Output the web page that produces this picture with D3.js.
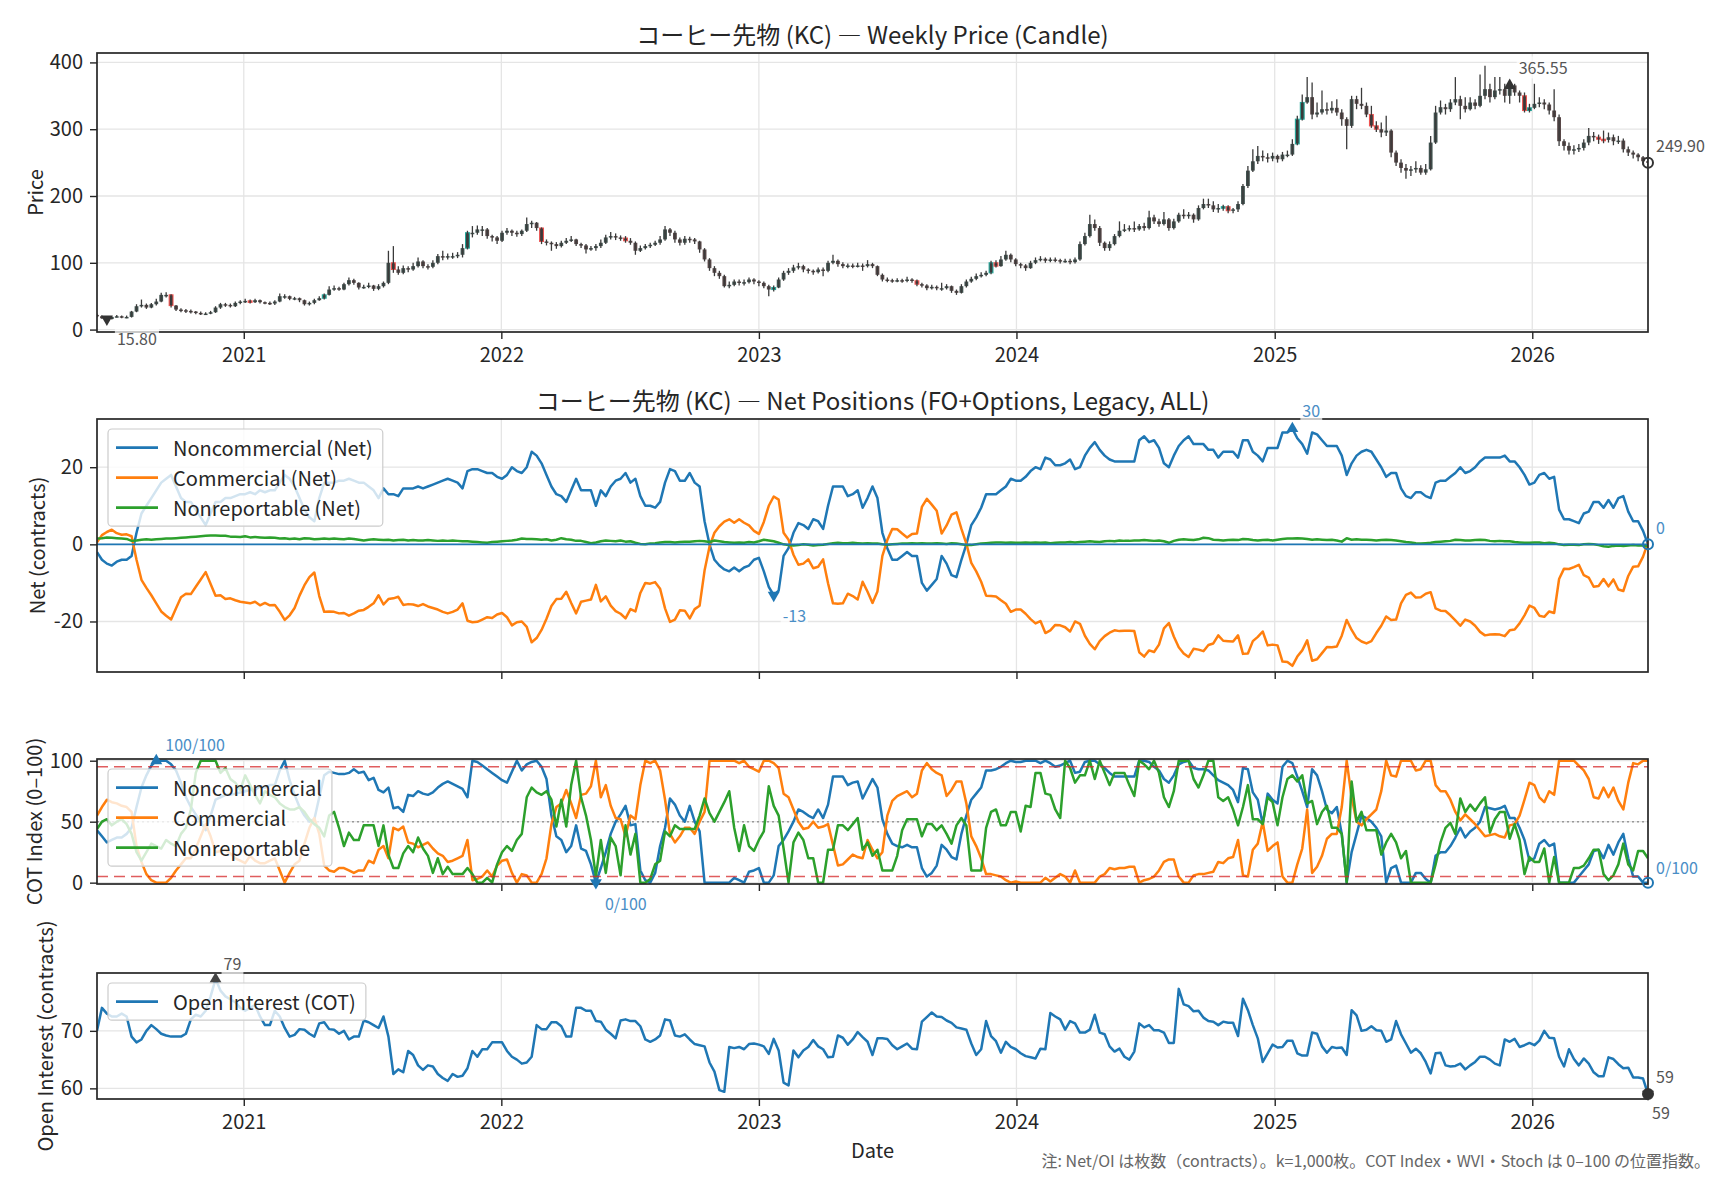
<!DOCTYPE html>
<html lang="ja">
<head>
<meta charset="UTF-8">
<title>コーヒー先物 (KC)</title>
<script src="https://cdn.jsdelivr.net/npm/d3@7"></script>
<style>
  html, body { margin: 0; padding: 0; background: #fff; }
  #chart { display: block; font-family: "Noto Sans CJK JP", "Noto Sans", sans-serif; }
</style>
</head>
<body>
<svg id="chart" width="1728" height="1180"></svg>
<script>
// ---- data: weekly bars, first week ending 2020-06-07 ----
const firstWeek = new Date(2020, 5, 7);
const firstOpen = 22;

const closes = [
  20,17,15.8,19,20,19,19,27,35,37,33,38,42,52,52,36,30,29,28,27,
  25,24,24,26,33,38,37,35,40,42,43,41,44,41,40,39,42,50,50,46,
  47,44,38,40,44,47,52,60,62,60,68,74,70,63,64,66,61,65,70,100,
  90,85,92,90,95,102,95,94,100,110,108,110,110,112,122,145,145,150,150,140,
  138,133,145,148,145,143,148,158,160,152,132,130,128,125,130,133,135,128,126,120,
  122,125,130,138,140,138,137,133,130,118,122,125,127,130,135,150,145,135,130,136,
  135,132,120,105,92,85,80,65,67,72,70,71,75,72,70,65,60,63,75,85,
  88,93,95,90,88,86,90,88,100,103,98,95,96,95,96,95,98,95,82,75,
  74,73,74,73,75,73,68,66,62,64,62,62,65,58,55,65,72,76,80,82,
  85,100,95,105,112,105,98,96,92,100,104,106,103,105,104,102,103,101,105,128,
  140,158,152,130,122,128,140,148,150,152,150,155,152,168,162,158,165,152,162,172,
  170,172,165,182,188,186,180,182,184,178,180,188,215,238,252,260,258,256,260,255,
  262,262,278,315,340,348,322,325,330,328,332,325,315,305,345,338,335,322,305,300,
  295,298,265,250,242,238,240,242,235,240,280,325,333,330,340,345,335,330,340,335,
  350,360,348,358,360,350,365.55,355,350,328,332,338,340,337,328,318,282,275,268,270,
  272,280,290,288,285,284,288,282,283,270,265,262,258,252,249.9
];
const highs = [
  24,21,18,20,22,21,21,28,38,45,39,40,46,55,56,53,37,32,31,30,
  28,27,26,28,35,40,40,39,42,44,46,45,46,45,42,42,44,54,53,51,
  49,48,45,42,46,50,54,65,66,64,70,78,76,71,67,70,67,68,72,118,
  125,95,96,95,100,108,104,98,104,113,118,114,115,116,128,148,155,156,155,152,
  142,140,148,152,150,148,150,168,163,161,153,135,132,131,133,137,140,136,130,128,
  125,128,135,142,146,144,141,140,137,132,126,128,130,133,140,155,152,148,138,140,
  139,137,133,122,107,95,88,82,72,75,75,75,78,77,74,72,67,66,78,88,
  92,97,100,97,92,90,93,93,103,112,105,101,99,99,100,99,104,100,96,84,
  78,76,77,76,79,77,75,70,68,67,66,70,68,66,60,68,75,79,84,86,
  88,103,104,110,118,114,107,100,98,103,108,110,108,108,108,106,106,106,108,132,
  145,172,165,155,132,132,143,162,158,156,162,158,160,178,172,166,176,167,166,175,
  180,176,174,186,196,196,192,188,187,186,182,192,218,245,270,275,268,264,265,262,
  266,268,285,320,352,378,370,340,358,340,342,345,330,318,350,350,362,340,335,312,
  310,320,300,268,255,248,245,252,246,248,290,335,343,338,345,378,350,348,348,345,
  382,395,368,378,378,368,370,368,358,355,338,368,348,345,340,360,322,285,280,276,
  278,285,302,296,292,298,295,292,290,286,274,268,264,260,258
];
const lows = [
  18,16,14,15,18,17,17,18,26,33,31,32,36,41,48,33,28,26,25,24,
  23,22,22,23,25,31,34,33,34,38,40,39,40,39,38,37,37,41,46,44,
  44,41,36,36,38,43,45,51,58,58,59,66,67,60,61,62,58,59,63,68,
  85,82,83,86,88,93,92,90,92,98,104,105,106,107,108,120,138,142,140,136,
  132,128,131,142,140,139,140,146,152,148,128,126,118,121,123,128,131,125,122,114,
  118,118,122,128,135,134,133,130,127,112,116,120,122,125,127,133,140,130,126,127,
  130,128,115,102,88,80,76,63,62,65,66,66,69,68,65,62,50,57,62,73,
  82,85,90,86,84,82,84,80,86,98,94,92,92,92,93,88,93,92,80,72,
  71,70,71,70,71,70,65,63,59,60,59,58,60,55,52,54,63,70,74,78,
  80,83,93,94,103,101,95,92,88,91,98,102,100,101,101,99,100,98,99,103,
  126,138,148,125,118,118,126,138,146,147,146,148,148,150,158,154,156,148,150,160,
  166,166,160,163,180,182,176,175,178,174,174,176,186,212,236,248,252,250,252,250,
  252,258,260,276,313,338,315,318,322,322,324,320,305,270,302,330,330,318,302,296,
  288,290,258,245,235,226,230,235,232,232,238,278,322,322,326,336,315,325,328,330,
  333,345,340,345,352,340,338,350,340,325,325,330,333,330,322,312,275,268,262,262,
  266,268,276,282,278,279,280,276,278,265,260,256,252,246,240
];
// weeks whose candle body is drawn with a bright outline
const markedCandles = [15,31,46,60,75,90,107,137,166,181,182,228,229,243,244,258,259,289,290,304,305];

const nonCommNet = [
  -2,-4,-5,-5.5,-4.5,-4,-4,-3,3,8,10,12,14,16,17,18,15,12,11,11,
  9,7,5,8,11,11,12,12,12.5,13,13,13.5,13,14,13.5,14,14,16,18,17,
  15,12,9,7,6,12,16,16,16,16.5,16.5,17,16.5,16,16,15,14,12,14.5,13,
  13,12.5,14.5,14.5,14.5,15,14.5,15,15.5,16,16.5,17,16.5,16,14.5,19,19.5,19.5,19,18.5,
  18.5,17.5,17,18,20,19,18.5,20,24,23,21,18,15,13,12.5,11,14,17,14,14,
  14,10,14,12.5,15,16.5,17,18.5,16,17,12.5,10,10,9.5,11,16,19.5,19,16.5,16.5,
  18.5,16,15,6,0,-4,-5.5,-6.5,-7,-6,-7,-6,-5.5,-4,-3.5,-7,-11,-13.2,-12,-3,
  -1,3,5.5,5,4,6.5,6,4,10,15,15,15,12.5,13,14,9.5,12,15,12,3,
  -1,-4,-4,-3,-2,-3,-3,-10,-12,-10.5,-9,-3,-5,-8,-8.5,-4,0,5,7,9.5,
  13,13,13,14,15,17,16.5,16.5,17.5,19,20,19.5,22.5,22,20.5,20.5,21,22,19.5,20,
  23,25,26.5,24.5,23,22,21.5,21.5,21.5,21.5,21.5,27,28,26.5,27,25,21,20,23,25.5,
  27,28,26,26,26,24.5,24.5,22.5,24,24,24,22.5,27,27,24,23,21.5,25,25,25,
  29,29,30,27.5,26,23.5,29,28.5,27,25.5,25.5,25.5,23,18,21,23,24,24.5,24,22,
  20,17.5,18.5,18.5,14.5,12.5,12,13.5,13.5,12.5,12,16,16.5,16.5,17.5,18.5,20,18.5,19,20,
  21.5,22.5,22.5,22.5,22.5,23,21.5,21.5,20,18,15.5,16,18,18.5,17,17.5,9,6.5,6.5,6,
  5.5,8,8.5,11,11,9.5,11.5,9.5,12,12.5,8.5,6,6,3.5,0
];
const commNet = [
  0.5,2.4,3.2,3.8,2.9,2.5,2.6,2.1,-4,-9.2,-11.3,-13.2,-15.3,-17.4,-18.5,-19.5,-16.6,-13.7,-12.8,-12.9,
  -11,-9.1,-7.2,-10.3,-13.3,-13.2,-14.2,-14,-14.5,-14.9,-15.1,-15.3,-14.9,-15.8,-15.2,-15.8,-15.7,-17.5,-19.6,-18.4,
  -16.5,-13.3,-10.6,-8.5,-7.3,-13.4,-17.5,-17.4,-17.5,-17.9,-17.8,-18.5,-17.9,-17.2,-17,-16.2,-15.3,-13.2,-15.6,-14.2,
  -14,-13.6,-15.7,-15.5,-15.6,-16,-15.5,-16.1,-16.5,-16.9,-17.5,-17.9,-17.5,-16.9,-15.3,-19.8,-20.2,-20.1,-19.5,-18.9,
  -19.1,-18.2,-17.8,-18.9,-21,-20.2,-20,-21.4,-25.4,-24.3,-22.2,-19.3,-16,-14.2,-14.1,-12.3,-15.2,-17.9,-14.9,-14.6,
  -14.3,-10.5,-14.8,-13.5,-15.9,-17.3,-18,-19.2,-16.8,-17.4,-12.6,-10,-10.2,-9.8,-11.5,-16.6,-20.1,-19.5,-17.1,-17.2,
  -19.2,-16.8,-15.9,-6.8,-0.6,3,4.7,5.9,6.5,5.6,6.5,5.6,4.9,3.5,2.7,5.8,10,12.4,11.6,3,
  1.2,-2.7,-5.3,-5,-3.9,-6.2,-5.8,-3.9,-10.1,-15.3,-15.4,-15.3,-12.8,-13.4,-14.3,-9.7,-12.3,-15.2,-12.2,-3,
  1.1,4,3.9,2.8,1.8,2.7,2.8,9.7,11.8,10.3,8.7,2.8,4.9,7.7,8.3,4,0.2,-4.8,-7,-9.7,
  -13.3,-13.4,-13.5,-14.5,-15.4,-17.5,-16.9,-16.9,-18,-19.4,-20.5,-19.9,-23,-22.3,-20.9,-21,-21.5,-22.6,-20,-20.6,
  -23.7,-25.8,-27.2,-25.1,-23.8,-22.9,-22.3,-22.5,-22.4,-22.4,-22.5,-28,-29.1,-27.5,-27.9,-26,-21.8,-20.4,-23.9,-26.7,
  -28.3,-29.2,-27.1,-27.3,-27.7,-26.1,-25.7,-23.6,-25,-25.1,-25.2,-23.6,-28.4,-28.3,-25.1,-24,-22.6,-26.2,-26,-26.2,
  -30.4,-30.5,-31.5,-29.1,-27.5,-24.9,-30.2,-29.8,-28.2,-26.6,-26.7,-26.5,-23.7,-19.6,-22.2,-24.3,-25.2,-25.7,-25.1,-23,
  -21.1,-18.7,-19.6,-19.5,-15.3,-13.1,-12.5,-13.8,-13.7,-12.8,-12.4,-16.6,-17.2,-17.3,-18.4,-19.7,-21.1,-19.5,-20,-21.1,
  -22.7,-23.6,-23.4,-23.3,-23.4,-23.8,-22.3,-22.1,-20.5,-18.4,-15.9,-16.5,-18.5,-18.8,-17.4,-17.8,-9,-6.3,-6.4,-5.9,
  -5.3,-8,-8.6,-11,-10.8,-9,-10.9,-9.1,-11.7,-12.1,-8.2,-5.8,-5.7,-3.2,0.5
];
const nonRepNet = [
  1.5,1.6,1.8,1.7,1.6,1.5,1.4,0.9,1.0,1.2,1.3,1.2,1.3,1.4,1.5,1.5,1.6,1.7,1.8,1.9,
  2.0,2.1,2.2,2.3,2.3,2.2,2.2,2.0,2.0,1.9,2.1,1.8,1.9,1.8,1.7,1.8,1.7,1.5,1.6,1.4,
  1.5,1.3,1.6,1.5,1.3,1.4,1.5,1.4,1.5,1.4,1.3,1.5,1.4,1.2,1.0,1.2,1.3,1.2,1.1,1.2,
  1.0,1.1,1.2,1.0,1.1,1.0,1.0,1.1,1.0,0.9,1.0,0.9,1.0,0.9,0.8,0.8,0.7,0.6,0.5,0.4,
  0.6,0.7,0.8,0.9,1.0,1.2,1.5,1.4,1.4,1.3,1.2,1.3,1.0,1.2,1.6,1.3,1.2,0.9,0.9,0.6,
  0.3,0.5,0.8,1.0,0.9,0.8,1.0,0.7,0.8,0.4,0.1,0.0,0.2,0.3,0.5,0.6,0.6,0.5,0.6,0.7,
  0.7,0.8,0.9,0.8,0.6,1.0,0.8,0.6,0.5,0.4,0.5,0.4,0.6,0.5,0.8,1.2,1.0,0.8,0.4,0.0,
  -0.2,-0.3,-0.2,0.0,-0.1,-0.3,-0.2,-0.1,0.1,0.3,0.4,0.3,0.3,0.4,0.3,0.2,0.3,0.2,0.2,0.0,
  -0.1,0.0,0.1,0.2,0.2,0.3,0.2,0.3,0.2,0.2,0.3,0.2,0.1,0.3,0.2,0.0,-0.2,-0.2,0.0,0.2,
  0.3,0.4,0.5,0.5,0.4,0.5,0.4,0.4,0.5,0.4,0.5,0.4,0.5,0.3,0.4,0.5,0.5,0.6,0.5,0.6,
  0.7,0.8,0.7,0.6,0.8,0.9,0.8,1.0,0.9,0.9,1.0,1.0,1.1,1.0,0.9,1.0,0.8,0.4,0.9,1.2,
  1.3,1.2,1.1,1.3,1.7,1.6,1.2,1.1,1.0,1.1,1.2,1.1,1.4,1.3,1.1,1.0,1.1,1.2,1.0,1.2,
  1.4,1.5,1.5,1.6,1.5,1.4,1.2,1.3,1.2,1.1,1.2,1.0,0.7,1.6,1.2,1.3,1.2,1.2,1.1,1.0,
  1.1,1.2,1.1,1.0,0.8,0.6,0.5,0.3,0.2,0.3,0.4,0.6,0.7,0.8,0.9,1.2,1.1,1.0,1.0,1.1,
  1.2,1.1,0.9,0.8,0.9,0.8,0.8,0.6,0.5,0.4,0.4,0.5,0.5,0.3,0.4,0.3,0.0,-0.2,-0.1,-0.1,
  -0.2,0.0,0.1,0.0,-0.2,-0.5,-0.6,-0.4,-0.3,-0.4,-0.3,-0.2,-0.3,-0.3,-0.5
];

const nonCommIdx = [
  43,38,33,35,37,37,40,45,62,78,88,96,100,100,100,97,92,82,70,62,
  56,50,43,55,68,70,72,72,73,74,75,76,76,79,78,80,80,92,100,84,
  72,62,55,50,52,70,88,91,90,89,89,90,93,90,91,84,86,76,74,78,
  61,62,58,72,71,75,73,72,74,78,81,83,81,79,77,70,100,99,96,93,
  90,87,84,82,91,100,92,97,99,100,95,85,55,38,35,25,30,47,28,26,
  15,0,12,25,40,50,56,63,47,48,10,2,0,8,30,45,69,64,55,50,
  63,50,42,0,0,0,0,0,0,4,2,0,9,10,12,0,0,6,30,35,
  42,50,60,58,55,53,60,53,64,87,87,87,80,82,83,69,77,85,78,52,
  40,32,30,29,31,29,29,12,5,8,14,31,27,21,19,40,55,68,73,78,
  92,92,93,95,98,100,99,99,100,100,100,98,100,98,95,96,98,100,90,91,
  99,100,100,97,94,90,87,87,87,87,87,100,100,99,95,92,85,82,88,97,
  99,100,94,93,93,92,88,84,82,80,76,66,94,93,74,68,48,73,68,65,
  95,100,98,87,75,62,93,88,75,60,57,62,40,0,25,40,55,53,50,45,
  38,0,12,14,0,0,0,8,8,3,0,22,25,25,30,37,45,37,42,45,
  50,62,61,60,61,63,53,53,45,35,18,20,32,35,30,32,0,0,0,0,
  5,10,15,26,27,20,31,23,33,40,20,5,5,0,0
];
const commIdx = [
  55,62,68,66,65,63,62,58,30,17,7,2,0,0,0,4,10,15,20,20,
  28,38,48,38,25,26,27,24,20,18,16,22,18,16,16,18,20,10,0,8,
  15,18,32,45,53,40,14,10,9,12,12,10,8,10,10,18,16,27,30,20,
  45,43,46,33,32,29,31,33,28,24,22,17,18,20,22,35,2,3,5,10,
  5,14,18,19,8,0,7,6,0,0,7,20,48,62,65,76,65,53,72,73,
  79,100,70,80,63,53,52,38,55,52,80,100,98,100,92,68,40,33,38,45,
  45,40,50,58,100,100,100,100,100,100,98,100,95,93,91,100,100,98,94,73,
  70,60,50,44,45,50,45,46,48,31,14,15,19,23,21,20,35,27,20,25,
  55,67,71,73,75,70,73,92,98,93,90,88,71,76,83,83,65,38,30,20,
  7,7,6,5,2,0,1,0,0,0,0,0,4,1,4,7,5,0,10,0,
  0,0,0,5,7,12,11,12,12,13,13,0,2,3,5,10,17,19,19,5,
  0,0,6,7,7,8,9,17,16,20,21,35,6,5,27,32,50,26,30,33,
  5,0,0,15,28,60,8,13,22,36,40,40,62,100,70,50,47,52,56,60,
  75,100,88,87,100,100,100,92,93,100,100,80,75,75,68,58,51,56,52,48,
  43,38,39,40,38,37,47,48,55,68,82,80,70,66,75,72,100,100,100,100,
  96,92,85,70,69,78,70,78,67,60,82,98,97,100,100
];
const nonRepIdx = [
  44,50,52,47,50,52,48,40,25,18,25,32,30,28,35,32,30,40,45,60,
  90,100,100,100,100,90,94,85,82,76,88,80,72,65,75,72,70,65,62,60,
  60,62,58,52,48,45,38,55,58,45,30,41,35,35,47,47,47,30,47,23,
  12,12,24,30,25,37,28,22,8,20,7,13,7,7,7,12,7,0,0,4,
  0,15,25,30,26,35,40,70,78,74,72,75,68,46,68,46,80,100,70,55,
  35,5,35,8,37,30,6,47,23,40,0,0,3,15,18,42,38,47,44,44,
  44,44,55,69,57,50,58,66,75,45,26,47,30,26,35,42,79,63,55,28,
  0,33,41,35,20,20,0,0,27,27,47,47,43,48,53,27,33,22,27,10,
  10,10,22,43,52,52,52,38,48,48,43,47,40,32,47,53,47,10,10,10,
  45,58,60,47,47,58,58,42,63,62,90,90,73,72,60,53,100,94,82,88,
  88,100,85,100,90,80,90,90,90,80,71,100,97,93,100,90,70,62,75,100,
  100,100,85,78,88,100,100,70,67,70,60,47,62,80,52,52,48,70,66,47,
  70,85,88,83,88,65,67,48,58,63,45,45,40,0,83,50,58,43,43,43,
  23,33,40,33,20,26,0,0,0,0,0,15,33,45,49,40,69,58,64,59,
  65,70,41,52,58,58,36,48,35,7,21,17,17,28,0,21,0,0,0,12,
  12,14,20,27,27,7,2,6,15,32,15,10,26,26,20
];

const openInterest = [
  70,74,73,72.5,72.5,73,72.5,69,68,68.5,70,71,70.3,69.5,69.2,69,69,69,69.5,72,
  72.8,72.5,73.5,76,79,77,76,75.5,75,74,73.5,74,74.5,72.5,71,71,73.5,72.5,70.5,69,
  69.3,70.3,70.2,69.5,69,71.3,71.5,70.3,70.2,69.5,70,68.5,69,69,71.8,71.5,71,70.5,72.5,69,
  62.5,63.3,62.8,66.5,65.8,64,63.2,64,63.8,62.5,61.8,61.3,62.5,62,62.2,63.5,66.5,65.5,66.8,66.8,
  68,68,68,66.5,65.5,65,64.3,64.5,65.5,71,70.3,70.3,71.5,71.5,70.8,69,69,74,74,73.5,
  73.5,71.7,71.6,70.2,69.5,68.7,71.8,72,71.7,71.7,70.8,68.5,68.1,68.5,69.2,72,71.8,69.2,69,69.4,
  68.5,67.7,67.5,67.3,64.5,62.9,59.7,59.4,67.2,67,67.2,66.8,67.7,67.8,67.6,67.3,66,68.6,66.6,61,
  60.5,66.6,65.4,66.6,67.2,68.4,67.3,66.8,65.4,65.5,69.2,68.8,67.6,68.5,69.8,68.9,68.1,65.8,68.7,68.7,
  68.6,67.5,66.8,67.3,67.8,66.9,66.8,71.6,72.4,73.2,72.5,72.4,71.8,71.4,70.6,70.4,70.2,67.8,65.8,66.8,
  71.7,69.1,68.2,66.2,68.1,67.2,66.8,66.1,65.6,65.4,65.2,66.9,66.8,73.1,72.5,72,70.2,71.7,71.3,69.7,
  69.7,70.2,72.8,69.7,69.4,67.3,66.4,66.9,65.5,65,66.4,71.3,70.6,71,70.1,70.1,69.7,67.9,67.9,77.3,
  74.6,74.3,73.4,73.5,72.3,71.7,71.6,71,71.6,71.4,71.4,69.1,75.6,73.6,71,68.7,64.6,66.1,67.6,67.1,
  67.2,68.3,68.3,66.1,65.7,65.7,69.7,69.5,67.3,66.2,67.2,67,67.1,65.8,73.6,72.7,70,70.2,70.8,70.1,
  70,68.1,68.5,71.7,69.4,67.8,66.2,66.9,66.1,64.6,62.6,66.1,66.2,64,63.8,63.9,64.3,63.3,64,64.6,
  65.5,65.5,65,64.3,64,68.5,68.1,68.6,67.2,67.5,67.9,67.5,68.3,70,68.8,68.7,65.5,63.8,66.8,65.1,
  64,65.2,64.3,62.8,62.1,62.1,65.4,65.1,64.2,63.5,63.6,61.9,61.9,61.7,59
];

// ---- layout ----
const plotLeft = 97, plotRight = 1648;
const C0 = "#1f77b4", C1 = "#ff7f0e", C2 = "#2ca02c";
const ink = "#262626";
const gridColor = "#e5e5e5";

const svg = d3.select("#chart");
const weeks = closes.map((d, i) => d3.timeWeek.offset(firstWeek, i));
const x = d3.scaleTime().domain(d3.extent(weeks)).range([plotLeft, plotRight]);
const years = x.ticks(d3.timeYear.every(1));
const dash = v => (v < 0 ? "-" : "") + Math.abs(v);

const gridLayer = svg.append("g");
const dataLayer = svg.append("g");
const frameLayer = svg.append("g");
const topLayer = svg.append("g");

let clipCount = 0;
function addPanel(top, bottom, yDomain, yTicks, showYears) {
  const y = d3.scaleLinear().domain(yDomain).range([bottom, top]);
  const id = "clip" + (clipCount++);
  svg.append("clipPath").attr("id", id).append("rect")
    .attr("x", plotLeft).attr("y", top)
    .attr("width", plotRight - plotLeft).attr("height", bottom - top);

  const grid = gridLayer.append("g").attr("stroke", gridColor).attr("stroke-width", 1.3);
  grid.selectAll(".vx").data(years).join("line")
    .attr("x1", d => x(d)).attr("x2", d => x(d)).attr("y1", top).attr("y2", bottom);
  grid.selectAll(".hy").data(yTicks).join("line")
    .attr("x1", plotLeft).attr("x2", plotRight).attr("y1", d => y(d)).attr("y2", d => y(d));

  const g = dataLayer.append("g").attr("clip-path", `url(#${id})`);

  const yAxis = frameLayer.append("g")
    .attr("transform", `translate(${plotLeft},0)`)
    .call(d3.axisLeft(y).tickValues(yTicks).tickSize(7).tickPadding(7).tickFormat(dash));
  const xAxis = frameLayer.append("g")
    .attr("transform", `translate(0,${bottom})`)
    .call(d3.axisBottom(x).tickValues(years).tickSize(7).tickPadding(9)
      .tickFormat(showYears ? d3.timeFormat("%Y") : ""));
  [yAxis, xAxis].forEach(a => {
    a.attr("font-family", null).attr("font-size", 20);
    a.select(".domain").remove();
    a.selectAll("line").attr("stroke", ink).attr("stroke-width", 1.4);
    a.selectAll("text").attr("fill", ink);
  });

  frameLayer.append("rect")
    .attr("x", plotLeft).attr("y", top)
    .attr("width", plotRight - plotLeft).attr("height", bottom - top)
    .attr("fill", "none").attr("stroke", ink).attr("stroke-width", 1.7);

  return { y, g, top, bottom };
}

function addLine(panel, values, color) {
  panel.g.append("path")
    .datum(values)
    .attr("fill", "none").attr("stroke", color).attr("stroke-width", 2.5)
    .attr("stroke-linejoin", "round")
    .attr("d", d3.line().x((d, i) => x(weeks[i])).y(d => panel.y(d)));
}

function addMarker(panel, i, v, shape, color) {
  const px = x(weeks[i]), py = panel.y(v);
  if (shape === "up" || shape === "down") {
    topLayer.append("path")
      .attr("d", d3.symbol(d3.symbolTriangle, 62)())
      .attr("transform", `translate(${px},${py}) rotate(${shape === "down" ? 180 : 0})`)
      .attr("fill", color);
  } else {
    topLayer.append("circle").attr("cx", px).attr("cy", py).attr("r", 5)
      .attr("fill", shape === "dot" ? color : "none")
      .attr("stroke", color).attr("stroke-width", 2);
  }
  return [px, py];
}

function addNote(px, py, text, color, boxed) {
  const t = topLayer.append("text")
    .attr("x", px).attr("y", py).attr("dominant-baseline", "central")
    .attr("font-size", 16).attr("fill", color).text(text);
  if (boxed) {
    const b = t.node().getBBox();
    topLayer.insert("rect", () => t.node())
      .attr("x", b.x - 2).attr("y", b.y + 1).attr("width", b.width + 4).attr("height", b.height - 2)
      .attr("fill", "#fff").attr("fill-opacity", 0.7);
  }
}

function addLegend(x0, y0, entries) {
  const g = topLayer.append("g");
  const box = g.append("rect").attr("x", x0).attr("y", y0).attr("rx", 4)
    .attr("fill", "#fff").attr("fill-opacity", 0.8)
    .attr("stroke", "#cccccc").attr("stroke-width", 1.2);
  let widest = 0;
  entries.forEach((e, k) => {
    const cy = y0 + 18.6 + k * 30;
    g.append("line").attr("x1", x0 + 8).attr("x2", x0 + 50).attr("y1", cy).attr("y2", cy)
      .attr("stroke", e.color).attr("stroke-width", 2.6);
    const t = g.append("text").attr("x", x0 + 65).attr("y", cy)
      .attr("dominant-baseline", "central").attr("font-size", 20).attr("fill", ink)
      .text(e.label);
    widest = Math.max(widest, t.node().getComputedTextLength());
  });
  box.attr("width", 65 + widest + 10).attr("height", 37.2 + (entries.length - 1) * 30);
}

function addTitle(cy, text) {
  svg.append("text").attr("x", (plotLeft + plotRight) / 2).attr("y", cy)
    .attr("text-anchor", "middle").attr("dominant-baseline", "central")
    .attr("font-size", 24).attr("fill", ink).text(text);
}

function addYLabel(cx, top, bottom, text) {
  const cy = (top + bottom) / 2;
  svg.append("text").attr("transform", `translate(${cx},${cy}) rotate(-90)`)
    .attr("text-anchor", "middle").attr("dominant-baseline", "central")
    .attr("font-size", 20).attr("fill", ink).text(text);
}

const extremes = vals => ({
  iMax: vals.indexOf(d3.max(vals)),
  iMin: vals.indexOf(d3.min(vals)),
  last: vals.length - 1
});

// ---- panel 1: weekly candles ----
const pricePanel = addPanel(53, 332, [-3.6, 414.1], [0, 100, 200, 300, 400], true);
const candles = closes.map((c, i) => ({
  i, close: c, open: i ? closes[i - 1] : firstOpen,
  high: highs[i], low: lows[i], marked: markedCandles.includes(i)
}));
const bodyW = 3.8;
pricePanel.g.selectAll(".body").data(candles).join("rect")
  .attr("x", d => x(weeks[d.i]) - bodyW / 2)
  .attr("y", d => pricePanel.y(Math.max(d.open, d.close)))
  .attr("width", bodyW)
  .attr("height", d => Math.max(1.5, Math.abs(pricePanel.y(d.open) - pricePanel.y(d.close))))
  .attr("fill", d => d.marked ? "#3a3a3a" : (d.close >= d.open ? "#40524f" : "#574747"))
  .attr("stroke", d => d.marked ? (d.close >= d.open ? "#26a69a" : "#ef5350") : "none")
  .attr("stroke-width", 1.1);
pricePanel.g.selectAll(".wick").data(candles).join("line")
  .attr("x1", d => x(weeks[d.i])).attr("x2", d => x(weeks[d.i]))
  .attr("y1", d => pricePanel.y(d.high)).attr("y2", d => pricePanel.y(d.low))
  .attr("stroke", "#3a3a3a").attr("stroke-width", 1.3);

{
  const e = extremes(closes);
  let p = addMarker(pricePanel, e.iMin, closes[e.iMin], "down", "#333");
  addNote(p[0] + 10, p[1] + 19, closes[e.iMin].toFixed(2), "#555", true);
  p = addMarker(pricePanel, e.iMax, closes[e.iMax], "up", "#333");
  addNote(p[0] + 9, p[1] - 18, closes[e.iMax].toFixed(2), "#555", true);
  p = addMarker(pricePanel, e.last, closes[e.last], "ring", "#333");
  addNote(plotRight + 8, p[1] - 18, closes[e.last].toFixed(2), "#555", false);
}
addTitle(33, "コーヒー先物 (KC) — Weekly Price (Candle)");
addYLabel(34, 53, 332, "Price");

// ---- panel 2: net positions ----
const netPanel = addPanel(419, 672, [-33.1, 32.5], [-20, 0, 20], false);
addLine(netPanel, nonCommNet, C0);
addLine(netPanel, commNet, C1);
addLine(netPanel, nonRepNet, C2);
netPanel.g.append("line").attr("x1", plotLeft).attr("x2", plotRight)
  .attr("y1", netPanel.y(0)).attr("y2", netPanel.y(0))
  .attr("stroke", C0).attr("stroke-width", 1.6);
{
  const e = extremes(nonCommNet);
  let p = addMarker(netPanel, e.iMax, nonCommNet[e.iMax], "up", C0);
  addNote(p[0] + 10, p[1] - 19, dash(Math.round(nonCommNet[e.iMax])), "#4a8ec6", true);
  p = addMarker(netPanel, e.iMin, nonCommNet[e.iMin], "down", C0);
  addNote(p[0] + 9, p[1] + 20, dash(Math.round(nonCommNet[e.iMin])), "#4a8ec6", true);
  p = addMarker(netPanel, e.last, nonCommNet[e.last], "ring", C0);
  addNote(plotRight + 8, p[1] - 17, dash(Math.round(nonCommNet[e.last])), "#4a8ec6", false);
}
addLegend(108, 429, [
  { label: "Noncommercial (Net)", color: C0 },
  { label: "Commercial (Net)", color: C1 },
  { label: "Nonreportable (Net)", color: C2 }
]);
addTitle(399, "コーヒー先物 (KC) — Net Positions (FO+Options, Legacy, ALL)");
addYLabel(36, 419, 672, "Net (contracts)");

// ---- panel 3: COT index ----
const cotPanel = addPanel(759, 884, [-1.1, 101.4], [0, 50, 100], false);
cotPanel.g.append("line").attr("x1", plotLeft).attr("x2", plotRight)
  .attr("y1", cotPanel.y(50)).attr("y2", cotPanel.y(50))
  .attr("stroke", "#999").attr("stroke-width", 1.5).attr("stroke-dasharray", "2,3");
addLine(cotPanel, nonCommIdx, C0);
addLine(cotPanel, commIdx, C1);
addLine(cotPanel, nonRepIdx, C2);
[95, 5].forEach(v => {
  cotPanel.g.append("line").attr("x1", plotLeft).attr("x2", plotRight)
    .attr("y1", cotPanel.y(v)).attr("y2", cotPanel.y(v))
    .attr("stroke", "#d62728").attr("stroke-opacity", 0.75)
    .attr("stroke-width", 1.6).attr("stroke-dasharray", "11,6");
});
{
  const e = extremes(nonCommIdx);
  let p = addMarker(cotPanel, e.iMax, nonCommIdx[e.iMax], "up", C0);
  addNote(p[0] + 9, p[1] - 17, `${Math.round(nonCommIdx[e.iMax])}/100`, "#4a8ec6", true);
  p = addMarker(cotPanel, e.iMin, nonCommIdx[e.iMin], "down", C0);
  addNote(p[0] + 9, p[1] + 20, `${Math.round(nonCommIdx[e.iMin])}/100`, "#4a8ec6", true);
  p = addMarker(cotPanel, e.last, nonCommIdx[e.last], "ring", C0);
  addNote(plotRight + 8, p[1] - 16, `${Math.round(nonCommIdx[e.last])}/100`, "#4a8ec6", false);
}
addLegend(108, 769, [
  { label: "Noncommercial", color: C0 },
  { label: "Commercial", color: C1 },
  { label: "Nonreportable", color: C2 }
]);
addYLabel(33, 759, 884, "COT Index (0–100)");

// ---- panel 4: open interest ----
const oiPanel = addPanel(973, 1099, [58.15, 80.06], [60, 70], true);
addLine(oiPanel, openInterest, C0);
{
  const e = extremes(openInterest);
  let p = addMarker(oiPanel, e.iMax, openInterest[e.iMax], "up", "#444");
  addNote(p[0] + 8, p[1] - 16, Math.round(openInterest[e.iMax]), "#555", true);
  p = addMarker(oiPanel, e.iMin, openInterest[e.iMin], "down", "#444");
  addNote(p[0] + 4, p[1] + 18, Math.round(openInterest[e.iMin]), "#555", true);
  p = addMarker(oiPanel, e.last, openInterest[e.last], "dot", "#333");
  addNote(plotRight + 8, p[1] - 18, Math.round(openInterest[e.last]), "#555", false);
}
addLegend(108, 983, [{ label: "Open Interest (COT)", color: C0 }]);
addYLabel(44, 973, 1099, "Open Interest (contracts)");

svg.append("text").attr("x", (plotLeft + plotRight) / 2).attr("y", 1149)
  .attr("text-anchor", "middle").attr("dominant-baseline", "central")
  .attr("font-size", 20).attr("fill", ink).text("Date");

svg.append("text").attr("x", 1710).attr("y", 1160)
  .attr("text-anchor", "end").attr("dominant-baseline", "central")
  .attr("font-size", 16).attr("fill", "#666")
  .text("注: Net/OI は枚数（contracts）。k=1,000枚。COT Index・WVI・Stoch は 0–100 の位置指数。");
</script>
</body>
</html>
